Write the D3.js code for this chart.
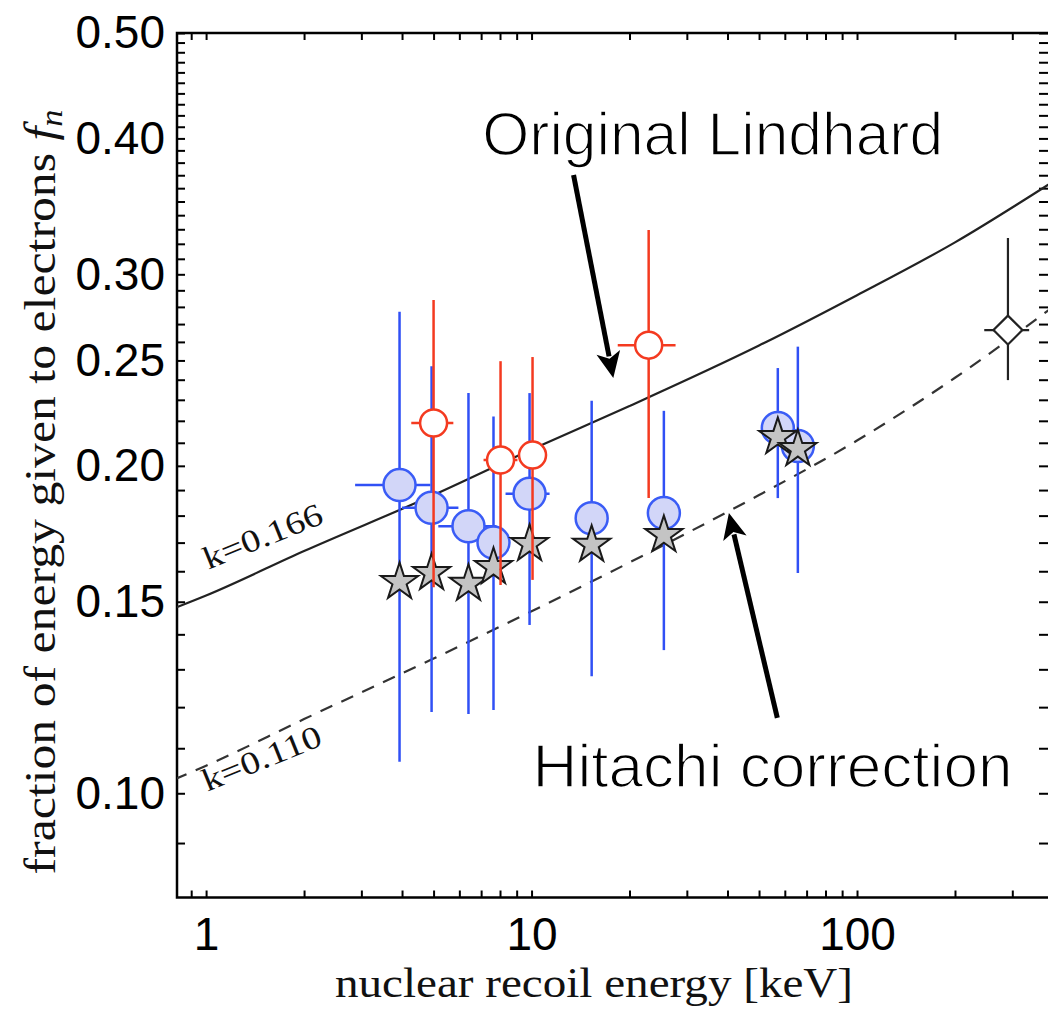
<!DOCTYPE html>
<html>
<head>
<meta charset="utf-8">
<script src="https://d3js.org/d3.v7.min.js"></script>
<style>
  body { margin: 0; background: #fff; }
  svg { display: block; }
  .tick text { font-family: "Liberation Sans", Arial, sans-serif; font-size: 46px; fill: #000; }
  .tick line { stroke: #000; stroke-width: 2px; }
  .domain { display: none; }
</style>
</head>
<body>
<div id="chart"></div>
<script>
// curves (Lindhard with k=0.166, Hitachi-corrected k=0.110)
var curveE = [0.8, 1, 2, 5, 10, 20, 50, 100, 200, 400];
var lindhardF = [0.148, 0.152, 0.167, 0.188, 0.207, 0.227, 0.258, 0.287, 0.321, 0.365];
var hitachiF = [0.103, 0.106, 0.117, 0.133, 0.147, 0.163, 0.188, 0.211, 0.241, 0.280];

// blue filled circles
var blueE = [3.93, 4.93, 6.40, 7.64, 9.86, 15.3, 25.5, 57.1, 65.8];
var blueF = [0.192, 0.183, 0.176, 0.170, 0.1885, 0.179, 0.181, 0.2167, 0.2086];
var blueLo = [0.1069, 0.1188, 0.1183, 0.1193, 0.1428, 0.1281, 0.1354, 0.1868, 0.1594];
var blueHi = [0.2771, 0.2470, 0.2333, 0.2220, 0.2333, 0.2295, 0.2247, 0.2460, 0.2574];
var blueELo = [2.87, 4.0, 5.17, 7.64, 8.32, 15.3, 25.5, 57.1, 65.8];
var blueEHi = [4.89, 5.96, 7.8, 7.64, 11.36, 15.3, 25.5, 57.1, 65.8];

// stars (same energies)
var starF = [0.1564, 0.1594, 0.1558, 0.1614, 0.1695, 0.1692, 0.1727, 0.2126, 0.2072];

// red open circles
var redE = [5.00, 8.03, 10.07, 22.9];
var redF = [0.2190, 0.2025, 0.2046, 0.2582];
var redLo = [0.1547, 0.1554, 0.1571, 0.1868];
var redHi = [0.2841, 0.2496, 0.2518, 0.3295];
var redELo = [4.27, 7.12, 10.07, 18.4];
var redEHi = [5.75, 9.05, 10.07, 27.7];

// open diamond
var diaE = [290.9];
var diaF = [0.2666];
var diaLo = [0.2398];
var diaHi = [0.3240];
var diaELo = [246];
var diaEHi = [338];

var xMinor = [0.9, 1, 2, 3, 4, 5, 6, 7, 8, 9, 10, 20, 30, 40, 50, 60, 70, 80, 90, 100, 200, 300];
var xLabels = [1, 10, 100];
var yMinor = d3.range(9, 51).map(function(d){ return d / 100; });
var yLabels = [0.10, 0.15, 0.20, 0.25, 0.30, 0.40, 0.50];

var W = 1048, H = 1013;
var pLeft = 177, pRight = 1050, pTop = 33, pBottom = 897.5;

var svg = d3.select("#chart").append("svg")
    .attr("width", W).attr("height", H);

var x = d3.scaleLog().domain([0.814, 391.7]).range([pLeft, pRight]);
var y = d3.scaleLog().domain([0.0802, 0.5]).range([pBottom, pTop]);

svg.append("clipPath").attr("id", "clip")
  .append("rect").attr("x", pLeft).attr("y", pTop)
  .attr("width", pRight - pLeft).attr("height", pBottom - pTop);

// axes with inward ticks
var fmtX = function(d){ return xLabels.indexOf(d) >= 0 ? String(d) : ""; };
var fmtY = function(d){
  var hit = yLabels.some(function(v){ return Math.abs(v - d) < 1e-9; });
  return hit ? d.toFixed(2) : "";
};

svg.append("g").attr("transform", "translate(0," + pBottom + ")")
  .call(d3.axisBottom(x).tickValues(xMinor).tickFormat(fmtX).tickSizeInner(-7).tickSizeOuter(0).tickPadding(20));
svg.append("g").attr("transform", "translate(0," + pTop + ")")
  .call(d3.axisTop(x).tickValues(xMinor).tickFormat("").tickSizeInner(-7).tickSizeOuter(0));
svg.append("g").attr("transform", "translate(" + pLeft + ",0)")
  .call(d3.axisLeft(y).tickValues(yMinor).tickFormat(fmtY).tickSizeInner(-8).tickSizeOuter(0).tickPadding(12));
svg.append("g").attr("transform", "translate(" + pRight + ",0)")
  .call(d3.axisRight(y).tickValues(yMinor).tickFormat("").tickSizeInner(-11).tickSizeOuter(0));

svg.append("rect")
  .attr("x", pLeft).attr("y", pTop)
  .attr("width", pRight - pLeft).attr("height", pBottom - pTop)
  .attr("fill", "none").attr("stroke", "#000").attr("stroke-width", 2.5);

var plot = svg.append("g").attr("clip-path", "url(#clip)");

var line = d3.line()
  .x(function(d){ return x(d[0]); })
  .y(function(d){ return y(d[1]); })
  .curve(d3.curveMonotoneX);

plot.append("path")
  .attr("d", line(d3.zip(curveE, lindhardF)))
  .attr("fill", "none").attr("stroke", "#222").attr("stroke-width", 2.2);
plot.append("path")
  .attr("d", line(d3.zip(curveE, hitachiF)))
  .attr("fill", "none").attr("stroke", "#333").attr("stroke-width", 2.2)
  .attr("stroke-dasharray", "13,10");

function errorBars(g, E, F, lo, hi, eLo, eHi, color, w) {
  E.forEach(function(e, i){
    g.append("line")
      .attr("x1", x(e)).attr("x2", x(e))
      .attr("y1", y(lo[i])).attr("y2", y(hi[i]))
      .attr("stroke", color).attr("stroke-width", w);
    if (eLo[i] !== eHi[i]) {
      g.append("line")
        .attr("x1", x(eLo[i])).attr("x2", x(eHi[i]))
        .attr("y1", y(F[i])).attr("y2", y(F[i]))
        .attr("stroke", color).attr("stroke-width", w);
    }
  });
}

// blue series
var gBlue = plot.append("g");
errorBars(gBlue, blueE, blueF, blueLo, blueHi, blueELo, blueEHi, "#3050f5", 2.5);
gBlue.selectAll("circle").data(blueE).enter().append("circle")
  .attr("cx", function(d){ return x(d); })
  .attr("cy", function(d, i){ return y(blueF[i]); })
  .attr("r", 16)
  .attr("fill", "#d2d6f8").attr("stroke", "#3a5cf6").attr("stroke-width", 2.5);

// stars
plot.append("g").selectAll("path").data(blueE).enter().append("path")
  .attr("d", d3.symbol().type(d3.symbolStar).size(430))
  .attr("transform", function(d, i){ return "translate(" + x(d) + "," + y(starF[i]) + ")"; })
  .attr("fill", "#c4c4c4").attr("stroke", "#1a1a1a").attr("stroke-width", 2);

// red series
var gRed = plot.append("g");
errorBars(gRed, redE, redF, redLo, redHi, redELo, redEHi, "#f43a20", 2.5);
gRed.selectAll("circle").data(redE).enter().append("circle")
  .attr("cx", function(d){ return x(d); })
  .attr("cy", function(d, i){ return y(redF[i]); })
  .attr("r", 13.5)
  .attr("fill", "#fff").attr("stroke", "#f43a20").attr("stroke-width", 2.5);

// diamond
var gDia = plot.append("g");
errorBars(gDia, diaE, diaF, diaLo, diaHi, diaELo, diaEHi, "#222", 2.2);
gDia.selectAll("path").data(diaE).enter().append("path")
  .attr("d", d3.symbol().type(d3.symbolSquare).size(420))
  .attr("transform", function(d, i){ return "translate(" + x(d) + "," + y(diaF[i]) + ") rotate(45)"; })
  .attr("fill", "#fff").attr("stroke", "#222").attr("stroke-width", 2.2);

// curve labels
function kLabel(txt, e, f, len) {
  svg.append("text")
    .attr("transform", "translate(" + x(e) + "," + y(f) + ") rotate(-22)")
    .attr("font-family", "'Liberation Serif', 'Times New Roman', serif")
    .attr("font-size", 32)
    .attr("textLength", len).attr("lengthAdjust", "spacingAndGlyphs")
    .attr("fill", "#111")
    .text(txt);
}
kLabel("k=0.166", 1.016, 0.1605, 126);
kLabel("k=0.110", 1.008, 0.1003, 126);

// annotations
function arrow(e0, f0, e1, f1) {
  var x0 = x(e0), y0 = y(f0), x1 = x(e1), y1 = y(f1);
  var a = Math.atan2(y1 - y0, x1 - x0);
  var len = 26, hw = 12;
  var bx = x1 - len * Math.cos(a), by = y1 - len * Math.sin(a);
  svg.append("line")
    .attr("x1", x0).attr("y1", y0)
    .attr("x2", bx + 4 * Math.cos(a)).attr("y2", by + 4 * Math.sin(a))
    .attr("stroke", "#000").attr("stroke-width", 5);
  var px = -Math.sin(a), py = Math.cos(a);
  svg.append("path")
    .attr("d", "M" + x1 + "," + y1 +
      "L" + (bx + hw * px) + "," + (by + hw * py) +
      "L" + (bx + 0.25 * len * Math.cos(a)) + "," + (by + 0.25 * len * Math.sin(a)) +
      "L" + (bx - hw * px) + "," + (by - hw * py) + "Z")
    .attr("fill", "#000");
}
arrow(13.46, 0.3702, 17.83, 0.2409);
arrow(56.9, 0.1173, 40.4, 0.1810);

function note(txt, e, f, len) {
  svg.append("text")
    .attr("x", x(e)).attr("y", y(f))
    .attr("font-family", "'Liberation Sans', Arial, sans-serif")
    .attr("font-size", 62)
    .attr("fill", "#000")
    .attr("stroke", "#fff").attr("stroke-width", 1.6)
    .attr("textLength", len).attr("lengthAdjust", "spacingAndGlyphs")
    .text(txt);
}
note("Original Lindhard", 7.05, 0.3862, 461);
note("Hitachi correction", 10.07, 0.1014, 480);

// axis titles
svg.append("text")
  .attr("x", 594).attr("y", 997)
  .attr("text-anchor", "middle")
  .attr("font-family", "'Liberation Serif', 'Times New Roman', serif")
  .attr("font-size", 42)
  .attr("textLength", 518).attr("lengthAdjust", "spacingAndGlyphs")
  .attr("fill", "#111")
  .text("nuclear recoil energy [keV]");

var yt = svg.append("text")
  .attr("transform", "translate(55,492) rotate(-90)")
  .attr("text-anchor", "middle")
  .attr("font-family", "'Liberation Serif', 'Times New Roman', serif")
  .attr("font-size", 45)
  .attr("textLength", 765).attr("lengthAdjust", "spacingAndGlyphs")
  .attr("fill", "#111");
yt.append("tspan").text("fraction of energy given to electrons ");
yt.append("tspan").attr("font-style", "italic").text("f");
yt.append("tspan").attr("font-style", "italic").attr("font-size", 31).attr("dy", 7).text("n");
</script>
</body>
</html>
